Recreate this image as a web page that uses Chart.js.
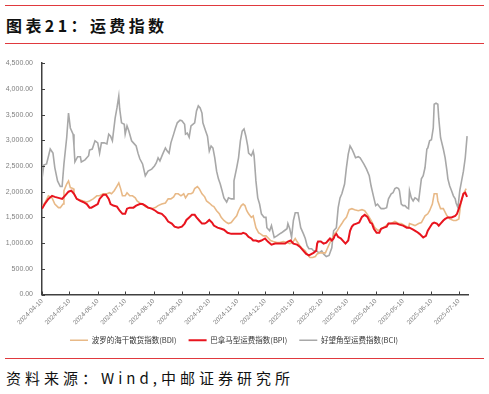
<!DOCTYPE html>
<html><head><meta charset="utf-8">
<script src="https://cdn.jsdelivr.net/npm/chart.js@4"></script>
<style>
html,body{margin:0;padding:0;background:#fff;}
body{width:489px;height:394px;position:relative;overflow:hidden;font-family:"Noto Sans CJK SC",sans-serif;}
.rule{position:absolute;left:5px;width:479px;height:0;border-top:1.5px solid #E0393E;}
#title{position:absolute;left:6px;top:14px;font-size:16px;font-weight:bold;letter-spacing:3.4px;line-height:22px;color:#111;white-space:nowrap;}
#source{position:absolute;left:6px;top:368px;font-size:15px;letter-spacing:4px;line-height:20px;color:#111;white-space:nowrap;}
#wrap{position:absolute;left:0;top:50px;width:489px;height:304px;}
</style></head>
<body>
<div class="rule" style="top:5px"></div>
<div id="title">图表21：运费指数</div>
<div class="rule" style="top:43px"></div>
<div id="wrap"><canvas id="c" width="489" height="304"></canvas></div>
<div class="rule" style="top:358px"></div>
<div id="source">资料来源：Wind,中邮证券研究所</div>
<script>
const startDate = '2024-04-10';
const tickLabels = ['2024-04-10','2024-05-10','2024-06-10','2024-07-10','2024-08-10','2024-09-10','2024-10-10','2024-11-10','2024-12-10','2025-01-10','2025-02-10','2025-03-10','2025-04-10','2025-05-10','2025-06-10','2025-07-10'];
const seriesNames = ['波罗的海干散货指数(BDI)','巴拿马型运费指数(BPI)','好望角型运费指数(BCI)'];

// days since 2024-04-10
const bdiDays = [0,3,7,11,14,18,20,23,24,27,29,31,34,35,38,42,45,49,52,56,60,63,67,71,74,76,79,82,84,86,88,91,93,96,99,102,104,107,110,113,116,120,124,127,131,135,138,141,144,146,149,152,155,157,160,163,165,167,170,172,175,178,180,183,186,188,191,194,196,199,202,204,207,210,213,215,218,220,222,224,226,229,231,234,237,239,242,245,248,250,253,257,260,264,268,271,274,277,279,282,285,288,290,293,296,299,301,304,307,310,312,315,318,320,323,325,328,330,333,336,339,342,346,350,353,357,360,364,368,371,375,379,382,386,390,393,397,401,402,405,408,412,415,419,422,424,427,429,432,433,436,439,443,446,450,453,456,458,461,464];
const bdiValues = [1690,1780,1920,1880,1760,1690,1690,1760,2020,2150,2210,2080,2060,1960,1860,1840,1820,1800,1820,1860,1920,1920,1960,1960,1980,1960,2020,2110,2170,2060,1920,1920,1980,1920,1920,1880,1820,1780,1760,1710,1690,1670,1690,1730,1760,1780,1860,1860,1900,1960,1960,1920,1960,1880,1960,1960,1980,2060,2100,2060,1960,1900,1820,1780,1730,1710,1630,1570,1500,1440,1400,1380,1400,1470,1530,1630,1730,1760,1730,1630,1570,1500,1530,1300,1200,1180,1140,1140,1090,1050,1030,1010,1010,1030,1010,990,1010,1090,1030,950,890,850,790,720,720,740,790,810,810,810,890,1010,1110,1180,1240,1300,1380,1440,1500,1650,1670,1650,1630,1650,1630,1530,1440,1300,1240,1280,1320,1380,1380,1420,1380,1380,1340,1300,1380,1360,1340,1380,1400,1530,1570,1630,1760,1960,1960,1820,1670,1670,1530,1470,1440,1440,1470,1760,1960,2060];

const bpiDays = [0,3,7,11,14,18,22,25,29,32,35,38,42,45,49,52,54,58,61,63,67,70,73,75,78,82,85,88,91,93,96,100,103,107,110,113,116,120,124,127,131,135,138,142,145,149,153,156,158,161,164,167,169,172,175,178,180,183,186,188,192,196,199,203,207,210,214,218,220,223,226,229,231,234,237,240,244,247,251,255,258,262,266,269,272,275,279,282,286,289,292,295,297,300,301,302,305,308,311,313,315,317,319,320,322,324,327,330,332,335,337,339,341,344,347,350,353,356,359,361,363,366,369,371,374,377,379,382,385,388,391,395,399,402,406,410,413,417,420,422,424,427,429,432,434,436,439,441,444,448,452,454,456,458,461,463,465];
const bpiValues = [1670,1760,1860,1920,1900,1880,1860,1920,2000,2020,1960,1860,1820,1800,1760,1690,1690,1730,1760,1860,1940,1940,1860,1760,1730,1710,1630,1570,1570,1670,1690,1690,1730,1760,1760,1730,1690,1670,1630,1590,1570,1500,1420,1380,1320,1300,1320,1380,1450,1500,1550,1550,1500,1440,1380,1380,1400,1450,1400,1340,1300,1280,1260,1200,1180,1180,1180,1180,1200,1180,1120,1090,1050,1050,1030,1050,1090,1030,970,990,990,990,990,1030,1050,990,970,930,850,790,760,790,810,850,990,1030,1030,990,1010,1050,1090,1050,1090,1140,1180,1120,1090,1030,990,1050,1240,1320,1360,1380,1400,1510,1550,1510,1400,1380,1280,1200,1200,1280,1300,1320,1380,1380,1380,1380,1360,1340,1300,1300,1260,1220,1180,1110,1140,1240,1300,1380,1400,1380,1340,1380,1440,1470,1500,1500,1530,1570,1670,1780,1960,1980,1900];

const bciDays = [0,2,5,9,12,14,17,20,22,24,27,29,31,34,35,36,39,42,43,47,51,52,55,58,61,63,65,68,71,73,75,77,80,82,84,85,87,90,91,93,95,98,100,103,105,107,110,113,116,120,123,125,127,129,132,135,137,139,141,144,146,148,151,153,156,157,159,161,163,165,167,169,171,173,175,176,179,181,183,185,187,189,191,193,195,197,199,202,204,207,209,210,213,215,217,219,221,223,225,226,229,231,232,234,236,238,240,243,245,246,249,251,254,257,260,262,265,268,269,271,273,275,277,280,281,283,286,288,290,292,295,297,300,303,306,308,311,314,317,319,322,324,326,328,331,333,335,337,339,341,343,346,348,350,352,355,358,360,363,365,367,370,371,374,377,379,382,384,386,388,390,391,393,395,397,399,401,402,404,406,408,410,412,413,415,417,419,421,422,424,426,428,429,431,433,434,436,439,441,443,444,446,448,450,452,453,455,457,459,461,463,465];
const bciValues = [2250,2520,2540,2830,2750,2470,2210,2100,2100,2540,3050,3530,3240,3120,2890,2580,2680,2680,2580,2620,2700,2810,2830,2990,2950,2750,2950,2950,2930,3120,3080,2990,3430,3630,3860,3610,3340,3310,3120,3280,3180,2990,2950,2890,2750,2640,2540,2310,2400,2440,2500,2560,2660,2600,2730,2850,2790,2750,2950,3120,3240,3340,3390,3380,3310,3120,3140,3060,3280,3310,3340,3570,3670,3630,3530,3340,3180,3080,2790,2890,2850,2660,2400,2250,2150,2020,1880,1800,1880,1860,1860,2210,2470,2660,2990,3180,3220,3080,2890,2750,2700,2790,2700,2210,1880,1760,1570,1500,1500,1300,1240,1340,1110,1140,1180,1200,1240,1280,1380,1280,1110,1440,1590,1590,1500,1300,1180,1090,950,890,890,850,850,810,850,790,740,760,910,1240,1300,1690,1880,1960,2150,2470,2730,2890,2830,2750,2660,2680,2660,2600,2540,2440,2310,2110,1880,1730,1760,1690,1670,1670,1690,1860,1960,1980,2060,2080,2060,2020,1760,1730,1730,1690,1670,2020,1880,1820,1880,1860,1820,1960,2250,2310,2470,2830,2850,2990,3010,3240,3700,3720,3700,3430,3050,2830,2660,2400,2250,2110,2020,1920,1860,1780,1690,2020,2210,2400,2660,3080];

const dayOf = s => Math.round((Date.parse(s) - Date.parse(startDate)) / 86400000);
const tickDays = tickLabels.map(dayOf);
const pts = (d, v) => d.map((x, i) => ({x, y: v[i]}));

const innerTicks = {
  id: 'innerTicks',
  afterDatasetsDraw(chart) {
    const {ctx, chartArea, scales: {x, y}} = chart;
    ctx.save();
    ctx.strokeStyle = '#404040';
    ctx.lineWidth = 1;
    ctx.beginPath();
    x.ticks.forEach(t => { const p = Math.round(x.getPixelForValue(t.value)) + 0.5; ctx.moveTo(p, chartArea.bottom); ctx.lineTo(p, chartArea.bottom - 3); });
    y.ticks.forEach(t => { const p = Math.round(y.getPixelForValue(t.value)) + 0.5; ctx.moveTo(chartArea.left, p); ctx.lineTo(chartArea.left + 3, p); });
    ctx.stroke();
    ctx.restore();
  }
};

new Chart(document.getElementById('c'), {
  type: 'line',
  data: {
    datasets: [
      {label: seriesNames[0], data: pts(bdiDays, bdiValues), borderColor: '#E8B987', backgroundColor: '#E8B987', borderWidth: 1.6, pointRadius: 0, tension: 0, order: 1},
      {label: seriesNames[1], data: pts(bpiDays, bpiValues), borderColor: '#E8141E', backgroundColor: '#E8141E', borderWidth: 2, pointRadius: 0, tension: 0, order: 0},
      {label: seriesNames[2], data: pts(bciDays, bciValues), borderColor: '#A8A8A8', backgroundColor: '#A8A8A8', borderWidth: 1.6, pointRadius: 0, tension: 0, order: 2}
    ]
  },
  options: {
    responsive: false,
    animation: false,
    events: [],
    layout: {padding: {top: 12, left: 0, right: 21, bottom: 0}},
    scales: {
      x: {
        type: 'linear', min: 0, max: 466,
        afterBuildTicks: s => { s.ticks = tickDays.map(v => ({value: v})); },
        afterFit: s => { s.height = 30; },
        grid: {display: false, drawTicks: false},
        border: {display: true, color: '#404040', width: 1.5},
        ticks: {autoSkip: false, minRotation: 45, maxRotation: 45, padding: 3, color: '#808080',
          font: {size: 6.5, family: 'Liberation Sans'},
          callback: (v, i) => tickLabels[i]}
      },
      y: {
        min: 0, max: 4500,
        afterFit: s => { s.width = 42; },
        grid: {display: false, drawTicks: false},
        border: {display: true, color: '#404040', width: 1.5},
        ticks: {stepSize: 500, padding: 9, color: '#808080', font: {size: 7, family: 'Liberation Sans'},
          callback: v => Number(v).toLocaleString('en-US', {minimumFractionDigits: 2, maximumFractionDigits: 2})}
      }
    },
    plugins: {
      legend: {
        position: 'bottom',
        labels: {usePointStyle: true, pointStyle: 'line', pointStyleWidth: 18, boxHeight: 7, padding: 12,
          color: '#333', font: {size: 7.5, family: 'Noto Sans CJK SC'},
          sort: (a, b) => a.datasetIndex - b.datasetIndex}
      },
      tooltip: {enabled: false}
    }
  },
  plugins: [innerTicks]
});
</script>
</body></html>
